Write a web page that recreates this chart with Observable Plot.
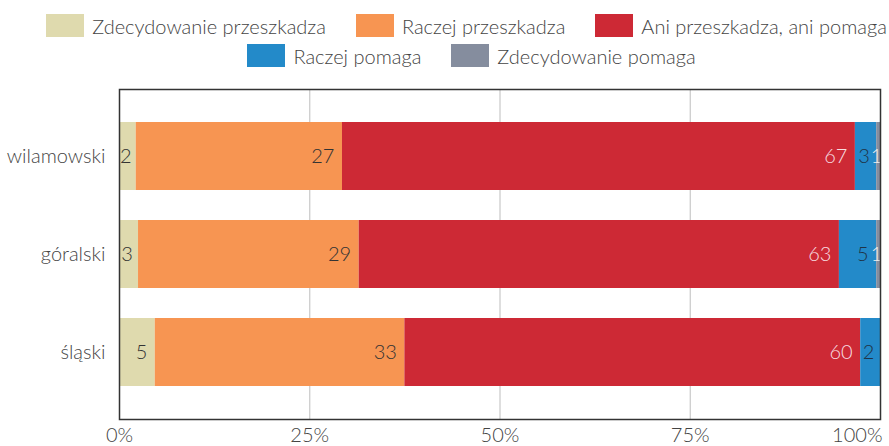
<!DOCTYPE html>
<html>
<head>
<meta charset="utf-8">
<script src="https://cdn.jsdelivr.net/npm/d3@7"></script>
<script src="https://cdn.jsdelivr.net/npm/@observablehq/plot@0.6"></script>
<style>
  html, body { margin: 0; padding: 0; background: #fff; }
  body { width: 889px; height: 446px; overflow: hidden; position: relative; font-family: Lato, "Noto Sans", sans-serif; font-weight: 300; }
  #legend { position: absolute; left: 0; top: 0; width: 889px; }
  .row { display: flex; justify-content: center; height: 23px; position: absolute; right: 0; }
  .item { display: flex; align-items: center; margin: 0 15px; font-size: 20px; color: #444; white-space: nowrap; }
  .sw { width: 38px; height: 23px; margin-right: 8px; }
  #chart { position: absolute; left: 0; top: 0; }
</style>
</head>
<body>
<div id="legend"></div>
<div id="chart"></div>
<script>
const languages = ["wilamowski", "góralski", "śląski"];
const categories = ["Zdecydowanie przeszkadza", "Raczej przeszkadza", "Ani przeszkadza, ani pomaga", "Raczej pomaga", "Zdecydowanie pomaga"];
const colors = ["#dfdaae", "#f79552", "#cd2935", "#238ac9", "#858d9e"];
const labelColors = ["#333333", "#333333", "#f7dde0", "#1f3347", "#eeeeee"];
// shares (%) per category, in the order of languages
const zdecydowaniePrzeszkadza = [2.2, 2.5, 4.7];
const raczejPrzeszkadza = [27.1, 29.0, 32.8];
const aniAni = [67.4, 63.1, 59.9];
const raczejPomaga = [2.8, 4.9, 2.6];
const zdecydowaniePomaga = [0.5, 0.5, 0];
// printed labels per category, in the order of languages
const labelsZdecPrzesz = ["2", "3", "5"];
const labelsRaczPrzesz = ["27", "29", "33"];
const labelsAni = ["67", "63", "60"];
const labelsRaczPom = ["3", "5", "2"];
const labelsZdecPom = ["1", "1", ""];
const xTicks = [0, 0.25, 0.5, 0.75];
const xTickLabels = ["0%", "25%", "50%", "75%"];
const lastTick = [1];
const lastTickLabel = ["100%"];

const seriesValues = [zdecydowaniePrzeszkadza, raczejPrzeszkadza, aniAni, raczejPomaga, zdecydowaniePomaga];
const seriesLabels = [labelsZdecPrzesz, labelsRaczPrzesz, labelsAni, labelsRaczPom, labelsZdecPom];
const data = [];
languages.forEach((lang, i) => {
  categories.forEach((cat, j) => {
    data.push({lang, cat, value: seriesValues[j][i], label: seriesLabels[j][i], ci: j});
  });
});

// Legend
const legend = document.getElementById("legend");
const rows = [[0, 1, 2], [3, 4]];
const rowTops = [14, 44];
const rowLefts = [44, 54];
rows.forEach((r, ri) => {
  const row = document.createElement("div");
  row.className = "row";
  row.style.top = rowTops[ri] + "px";
  row.style.left = rowLefts[ri] + "px";
  r.forEach(j => {
    const it = document.createElement("div");
    it.className = "item";
    const sw = document.createElement("div");
    sw.className = "sw";
    sw.style.background = colors[j];
    const t = document.createElement("span");
    t.textContent = categories[j];
    it.appendChild(sw);
    it.appendChild(t);
    row.appendChild(it);
  });
  legend.appendChild(row);
});

const stackOpts = {x: "value", y: "lang", z: "cat", offset: "normalize", order: categories};
const labelFill = d => labelColors[d.ci];
const isBig = d => d.label !== "" && +d.label >= 5;
const isSmall = d => d.label !== "" && +d.label < 5;

const plot = Plot.plot({
  width: 889,
  height: 446,
  marginTop: 89,
  marginBottom: 27,
  marginLeft: 119,
  marginRight: 9,
  style: {fontFamily: "Lato, 'Noto Sans', sans-serif", fontWeight: 300, fontSize: "20px", color: "#444", background: "transparent"},
  x: {domain: [0, 1]},
  y: {domain: languages, paddingInner: 0.31, paddingOuter: 0.33, label: null},
  color: {domain: categories, range: colors},
  marks: [
    Plot.ruleX([0.25, 0.5, 0.75], {stroke: "#c8c8c8", strokeWidth: 1.2}),
    Plot.barX(data, Plot.stackX({...stackOpts, fill: "cat"})),
    Plot.text(data, Plot.stackX2({...stackOpts, text: d => isBig(d) ? d.label : "", fill: labelFill, textAnchor: "end", dx: -8, fontSize: 20, fontWeight: 300})),
    Plot.text(data, Plot.stackX({...stackOpts, text: d => isSmall(d) ? d.label : "", fill: labelFill, textAnchor: "middle", dx: -2, fontSize: 20, fontWeight: 300})),
    Plot.axisY({tickSize: 0, tickPadding: 14, label: null, fontSize: 20, fill: "#444"}),
    Plot.axisX({ticks: xTicks, tickFormat: (d, i) => xTickLabels[i], tickSize: 0, tickPadding: 8, label: null, fontSize: 20, fill: "#444"}),
    Plot.axisX({ticks: lastTick, tickFormat: (d, i) => lastTickLabel[i], tickSize: 0, tickPadding: 8, label: null, fontSize: 20, fill: "#444", textAnchor: "end", dx: 2}),
    Plot.frame({stroke: "#333", strokeWidth: 1.5})
  ]
});
document.getElementById("chart").appendChild(plot);
</script>
</body>
</html>
